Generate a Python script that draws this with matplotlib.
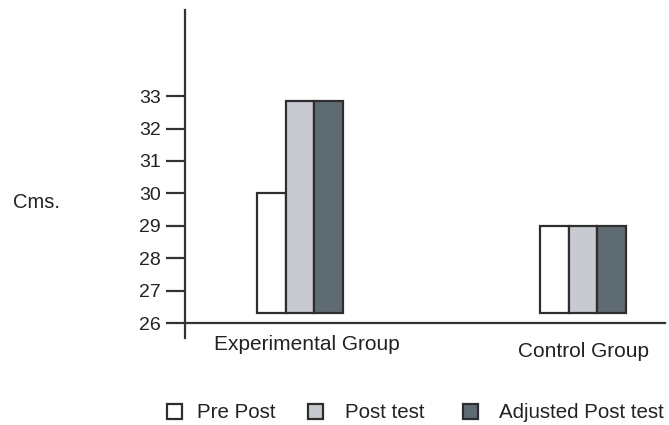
import matplotlib
matplotlib.use("Agg")
import matplotlib.pyplot as plt
from matplotlib.patches import Rectangle
import numpy as np

plt.rcParams['font.family'] = ['Liberation Sans', 'DejaVu Sans']

groups = ["Experimental Group", "Control Group"]
series = ["Pre Post", "Post test", "Adjusted Post test"]
values = {
    "Pre Post": [30.0, 29.0],
    "Post test": [32.85, 29.0],
    "Adjusted Post test": [32.85, 29.0],
}
base_value = 26.3
yticks = [26, 27, 28, 29, 30, 31, 32, 33]
ylabel = "Cms."

colors = ["#ffffff", "#c7cbd1", "#5f6b73"]
edge = "#2e2e2e"

W, H = 669, 425
fig = plt.figure(figsize=(W / 100, H / 100), dpi=100)
left, right, top, bottom = 185, 665, 10, 338
ax = fig.add_axes([left / W, 1 - bottom / H, (right - left) / W, (bottom - top) / H])

ppu_y = 32.4
ax.set_ylim(26 - (bottom - 323) / ppu_y, 26 + (323 - top) / ppu_y)
ppu_x = 283.0
ax.set_xlim((left - 300) / ppu_x, 1 + (right - 583) / ppu_x)

x = np.arange(len(groups))
bw = 28.5 / ppu_x
for i, s in enumerate(series):
    vals = np.array(values[s])
    ax.bar(x + (i - 1) * bw, vals - base_value, bottom=base_value, width=bw,
           color=colors[i], edgecolor=edge, linewidth=1.6, zorder=3)

for sp in ["top", "right"]:
    ax.spines[sp].set_visible(False)
ax.spines["left"].set_color("#333333")
ax.spines["left"].set_linewidth(1.6)
ax.spines["bottom"].set_position(("data", 26))
ax.spines["bottom"].set_color("#333333")
ax.spines["bottom"].set_linewidth(1.6)
ax.spines["bottom"].set_zorder(4)

ax.set_yticks(yticks)
ax.set_yticklabels([str(t) for t in yticks])
ax.tick_params(axis="y", length=13.5, width=1.6, color="#333333", pad=4,
               labelsize=14, labelcolor="#222222")
ax.set_xticks([])

# group labels
fig.text(307 / W, 1 - 350 / H, groups[0], ha="center", va="baseline",
         fontsize=15, color="#222222")
fig.text(583 / W, 1 - 357 / H, groups[1], ha="center", va="baseline",
         fontsize=15, color="#222222")
fig.text(13 / W, 1 - 208 / H, ylabel, ha="left", va="baseline",
         fontsize=14.5, color="#222222")

# legend
sq = 15
leg_boxes = [167, 308, 463]
leg_texts = [197, 345, 499]
for i, s in enumerate(series):
    fig.patches.append(Rectangle((leg_boxes[i] / W, 1 - 419 / H), sq / W, sq / H,
                                 transform=fig.transFigure, facecolor=colors[i],
                                 edgecolor=edge, linewidth=1.6))
    fig.text(leg_texts[i] / W, 1 - 418 / H, s, ha="left", va="baseline",
             fontsize=14.8, color="#222222")

fig.savefig("out.png", dpi=100)
